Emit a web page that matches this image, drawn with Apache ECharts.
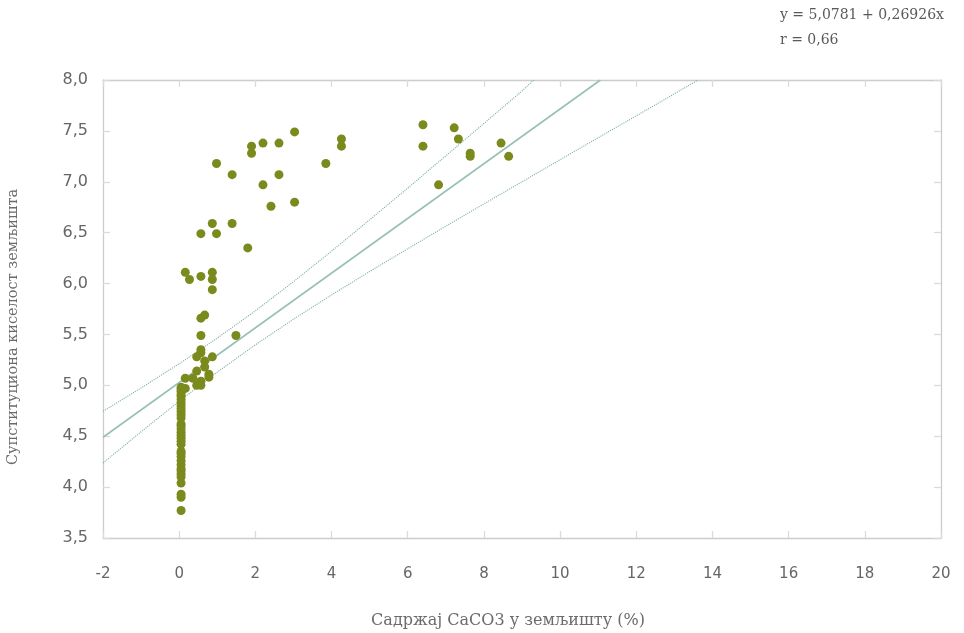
<!DOCTYPE html>
<html>
<head>
<meta charset="utf-8">
<script src="https://cdn.jsdelivr.net/npm/echarts@6/dist/echarts.min.js"></script>
<style>
html,body{margin:0;padding:0;background:#fff;}
#chart{width:964px;height:633px;}
</style>
</head>
<body>
<div id="chart"></div>
<script>
// Measured points: CaCO3 content (%) and substitutional acidity (pH)
const caco3 = [
  0.05,0.05,0.05,0.05,0.05,0.05,0.05,0.05,0.05,0.05,0.05,0.05,0.05,0.05,0.05,0.05,0.05,
  0.05,0.05,0.05,0.05,0.05,0.05,0.05,0.05,0.05,0.05,0.05,0.05,0.05,0.05,0.05,0.05,
  0.16,0.27,0.57,0.87,0.87,0.87,
  0.57,0.98,0.87,1.39,1.80,
  0.98,1.39,1.90,1.90,2.20,2.62,3.03,2.20,2.62,2.41,3.03,3.85,4.26,4.26,
  6.40,6.40,7.22,7.33,7.64,7.64,8.45,8.65,6.81,
  0.57,0.67,0.57,1.49,0.57,0.57,0.46,0.87,0.67,0.67,0.46,0.78,0.78,0.16,0.36,0.57,0.46,0.57,0.16
];
const ph = [
  4.98,4.96,4.94,4.91,4.89,4.86,4.83,4.80,4.77,4.74,4.71,4.68,4.62,4.60,4.57,4.54,4.51,
  4.48,4.45,4.42,4.35,4.33,4.30,4.26,4.22,4.18,4.16,4.13,4.10,4.04,3.93,3.90,3.77,
  6.11,6.04,6.07,6.11,6.04,5.94,
  6.49,6.49,6.59,6.59,6.35,
  7.18,7.07,7.35,7.28,7.38,7.38,7.49,6.97,7.07,6.76,6.80,7.18,7.42,7.35,
  7.56,7.35,7.53,7.42,7.28,7.25,7.38,7.25,6.97,
  5.66,5.69,5.49,5.49,5.35,5.32,5.28,5.28,5.24,5.18,5.14,5.11,5.08,5.07,5.07,5.04,5.00,5.00,4.97
];
// Regression line as drawn
const regX = [-2, 11.06];
const regY = [4.49, 8.0];
// Upper confidence band
const upX = [-2, -1, 0, 1, 2, 3, 4, 5, 6, 7, 8, 9, 9.31];
const upY = [4.745, 4.974, 5.212, 5.464, 5.732, 6.018, 6.318, 6.626, 6.938, 7.255, 7.573, 7.892, 8.0];
// Lower confidence band
const loX = [-2, -1, 0, 1, 2, 3, 4, 5, 6, 7, 8, 9, 10, 11, 12, 13, 13.62];
const loY = [4.237, 4.544, 4.844, 5.130, 5.398, 5.650, 5.888, 6.118, 6.342, 6.563, 6.783, 7.000, 7.217, 7.433, 7.648, 7.864, 8.0];
// Axis / text
const xTitle = 'Садржај CaCO3 у земљишту (%)';
const yTitle = 'Супституциона киселост земљишта';
const eqText = 'y = 5,0781 + 0,26926x';
const rText = 'r = 0,66';

const zip = (a, b) => a.map((v, i) => [v, b[i]]);
const frameColor = '#cccccc';
const labelFont = 'DejaVu Sans';
const serifFont = 'DejaVu Serif';

const chart = echarts.init(document.getElementById('chart'));
const baseAxis = {
  type: 'value',
  axisLine: { show: true, onZero: false, lineStyle: { color: frameColor, width: 1.3 } },
  axisTick: { show: true, inside: true, length: 7, lineStyle: { color: '#dadada', width: 1.3 } },
  splitLine: { show: false }
};
chart.setOption({
  animation: false,
  backgroundColor: '#ffffff',
  grid: { left: 103, right: 23, top: 80, bottom: 95, containLabel: false, outerBoundsMode: 'none' },
  graphic: [
    { type: 'text', left: 780, top: 8, style: { text: eqText, font: '14px "' + serifFont + '"', fill: '#595959' } },
    { type: 'text', left: 780, top: 33, style: { text: rText, font: '14px "' + serifFont + '"', fill: '#595959' } }
  ],
  xAxis: [
    Object.assign({}, baseAxis, {
      position: 'bottom', min: -2, max: 20, interval: 2,
      name: xTitle, nameLocation: 'middle', nameGap: 75,
      nameTextStyle: { fontFamily: serifFont, fontSize: 16, color: '#6b6b6b', padding: [0, 28, 0, 0] },
      axisLabel: { margin: 29, fontFamily: labelFont, fontSize: 15, color: '#666666' }
    }),
    Object.assign({}, baseAxis, {
      position: 'top', min: -2, max: 20, interval: 2,
      axisLabel: { show: false }
    })
  ],
  yAxis: [
    Object.assign({}, baseAxis, {
      position: 'left', min: 3.5, max: 8, interval: 0.5,
      name: yTitle, nameLocation: 'middle', nameGap: 82, nameRotate: 90,
      nameTextStyle: { fontFamily: serifFont, fontSize: 14.5, color: '#6b6b6b', padding: [0, 0, 0, -36] },
      axisLabel: { margin: 15, fontFamily: labelFont, fontSize: 16, color: '#666666',
        formatter: v => v.toFixed(1).replace('.', ',') }
    }),
    Object.assign({}, baseAxis, {
      position: 'right', min: 3.5, max: 8, interval: 0.5,
      axisLabel: { show: false }
    })
  ],
  series: [
    {
      type: 'line', data: zip(upX, upY), showSymbol: false, symbol: 'none', silent: true,
      lineStyle: { color: '#7eb0a2', width: 1.1, type: 'dotted' }, z: 2
    },
    {
      type: 'line', data: zip(loX, loY), showSymbol: false, symbol: 'none', silent: true,
      lineStyle: { color: '#7eb0a2', width: 1.1, type: 'dotted' }, z: 2
    },
    {
      type: 'line', data: zip(regX, regY), showSymbol: false, symbol: 'none', silent: true,
      lineStyle: { color: '#98c0b3', width: 1.6 }, z: 3
    },
    {
      type: 'scatter', data: zip(caco3, ph), symbol: 'circle', symbolSize: 9,
      itemStyle: { color: '#7b8a1c', opacity: 1 }, z: 4
    }
  ]
});
</script>
</body>
</html>
